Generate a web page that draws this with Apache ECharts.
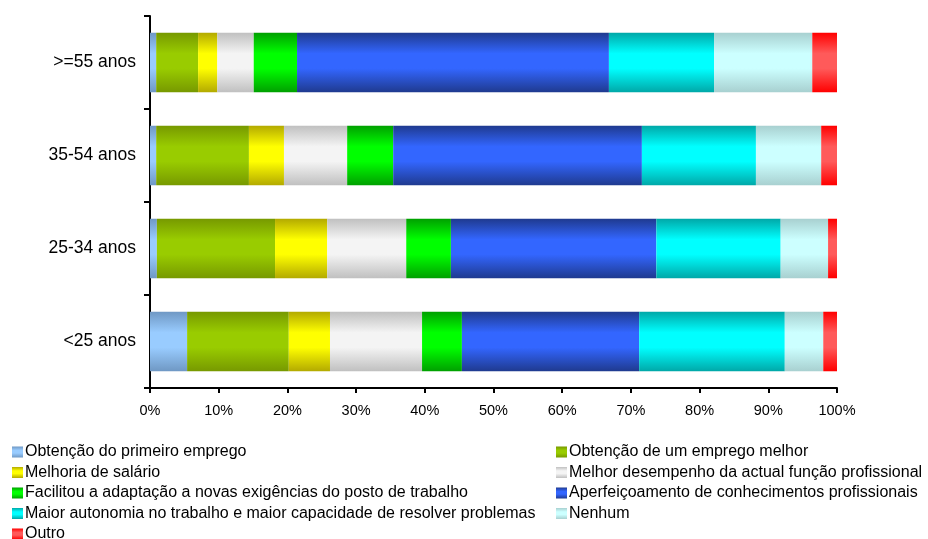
<!DOCTYPE html>
<html>
<head>
<meta charset="utf-8">
<script src="https://cdn.jsdelivr.net/npm/echarts@6/dist/echarts.min.js"></script>
<style>
  html, body { margin: 0; padding: 0; background: #fff; }
  #chart { width: 928px; height: 539px; }
</style>
</head>
<body>
<div id="chart"></div>
<script>
// age groups, bottom to top
var ageGroups = ['<25 anos', '25-34 anos', '35-54 anos', '>=55 anos'];

var primeiroEmprego = [5.4, 1.0, 0.9, 0.9];
var empregoMelhor   = [14.8, 17.2, 13.5, 6.1];
var salario         = [6.0, 7.6, 5.1, 2.8];
var desempenho      = [13.4, 11.5, 9.2, 5.3];
var adaptacao       = [5.8, 6.5, 6.7, 6.3];
var conhecimentos   = [25.8, 29.9, 36.2, 45.4];
var autonomia       = [21.2, 18.1, 16.6, 15.3];
var nenhum          = [5.6, 6.9, 9.5, 14.3];
var outro           = [2.0, 1.3, 2.3, 3.6];

var pctTicks = ['0%', '10%', '20%', '30%', '40%', '50%', '60%', '70%', '80%', '90%', '100%'];

function grad(edge, mid) {
  return new echarts.graphic.LinearGradient(0, 0, 0, 1, [
    { offset: 0, color: edge },
    { offset: 0.35, color: mid },
    { offset: 0.6, color: mid },
    { offset: 1, color: edge }
  ]);
}

var seriesDefs = [
  ['Obtenção do primeiro emprego', primeiroEmprego, '#6f98c4', '#99ccff'],
  ['Obtenção de um emprego melhor', empregoMelhor, '#779900', '#99cc00'],
  ['Melhoria de salário', salario, '#b3aa00', '#ffff00'],
  ['Melhor desempenho da actual função profissional', desempenho, '#c0c0c0', '#f4f4f4'],
  ['Facilitou a adaptação a novas exigências do posto de trabalho', adaptacao, '#00a000', '#00ff00'],
  ['Aperfeiçoamento de conhecimentos profissionais', conhecimentos, '#1f3a8f', '#3366ff'],
  ['Maior autonomia no trabalho e maior capacidade de resolver problemas', autonomia, '#00a8a8', '#00ffff'],
  ['Nenhum', nenhum, '#a8d0d0', '#ccffff'],
  ['Outro', outro, '#ff0000', '#ff5a5a']
];

var names = seriesDefs.map(function (d) { return d[0]; });
var series = seriesDefs.map(function (d) {
  return {
    name: d[0],
    type: 'bar',
    stack: 'total',
    barWidth: '64%',
    data: d[1],
    itemStyle: { color: grad(d[2], d[3]) }
  };
});

var legendText = { fontFamily: 'Liberation Sans, Arial', fontSize: 16, lineHeight: 16, color: '#000', padding: [0, 0, 0, -3] };

function legendAt(left, parity) {
  return {
    orient: 'vertical',
    left: left, top: 444, height: 150,
    padding: 0,
    icon: 'rect',
    itemWidth: 11, itemHeight: 11, itemGap: 4.5,
    data: names.filter(function (n, i) { return i % 2 === parity; }),
    textStyle: legendText
  };
}

var myChart = echarts.init(document.getElementById('chart'));
myChart.setOption({
  animation: false,
  textStyle: { fontFamily: 'Liberation Sans, Arial' },
  grid: { left: 150, right: 91, top: 16, bottom: 151, containLabel: false },
  legend: [legendAt(12, 0), legendAt(556, 1)],
  xAxis: {
    type: 'value',
    min: 0, max: 100, interval: 10,
    axisLine: { show: true, lineStyle: { color: '#000', width: 2 } },
    axisTick: { show: true, length: 5, lineStyle: { color: '#000', width: 2 } },
    splitLine: { show: false },
    axisLabel: {
      color: '#000', fontSize: 14.5, margin: 15,
      formatter: function (v) { return pctTicks[Math.round(v / 10)]; }
    }
  },
  yAxis: {
    type: 'category',
    data: ageGroups,
    axisLine: { lineStyle: { color: '#000', width: 2 } },
    axisTick: { show: true, length: 6, lineStyle: { color: '#000', width: 2 } },
    axisLabel: { color: '#000', fontSize: 17.5, margin: 14 }
  },
  series: series
});
</script>
</body>
</html>
